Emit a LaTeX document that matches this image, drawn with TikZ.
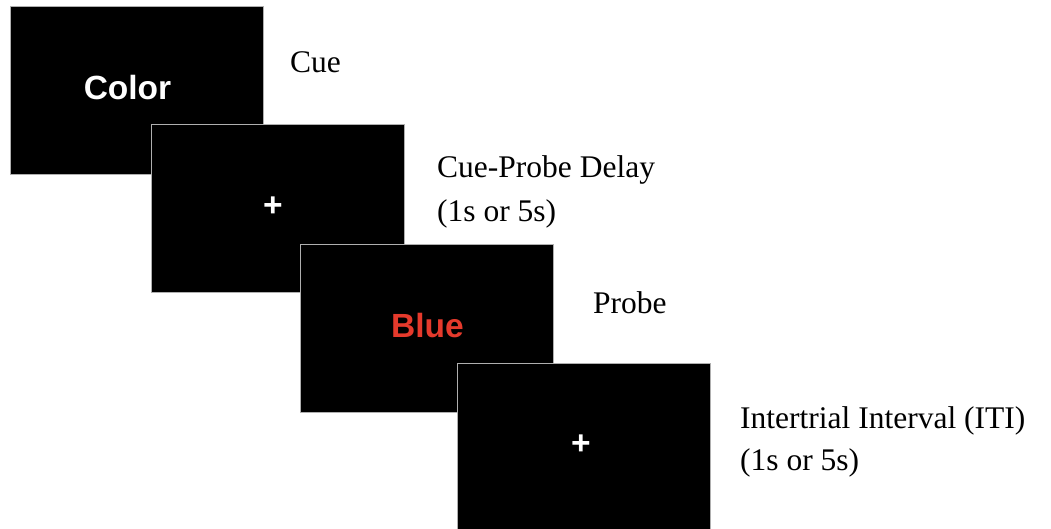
\documentclass[tikz,border=0pt]{standalone}
\usepackage{fontspec}
\setmainfont{Liberation Serif}
\newfontfamily\arialfont{Liberation Sans}
\definecolor{probered}{RGB}{229,58,44}
\definecolor{edgegray}{RGB}{175,175,175}
\begin{document}
\begin{tikzpicture}[x=1pt,y=-1pt,
  screen/.style={draw=edgegray, fill=black, line width=0.9pt, minimum width=253pt, minimum height=168pt, inner sep=0pt},
  stimtext/.style={font=\arialfont\bfseries\fontsize{33.5}{38}\selectfont, inner sep=0pt},
  label/.style={font=\fontsize{31.5}{36}\selectfont, inner sep=0pt, anchor=base west}]
\useasboundingbox[fill=white] (0,0) rectangle (1051,529);
\node[screen] (s1) at (136.5,90) {};
\node[stimtext, text=white, anchor=base] (t1) at (127.5,100) {Color};
\node[screen] (s2) at (277.5,208) {};
\node[stimtext, text=white] (t2) at (273,207) {+};
\node[screen] (s3) at (426.5,328) {};
\node[stimtext, text=probered, anchor=base] (t3) at (427.5,337) {Blue};
\node[screen] (s4) at (583.5,447) {};
\node[stimtext, text=white] (t4) at (581,445) {+};
\node[label] (cue) at (290,73) {Cue};
\node[label] (delay1) at (437,178) {Cue-Probe Delay};
\node[label] (delay2) at (437,222) {(1s or 5s)};
\node[label] (probe) at (593,313) {Probe};
\node[label] (iti1) at (740,428) {Intertrial Interval (ITI)};
\node[label] (iti2) at (740,470) {(1s or 5s)};
\end{tikzpicture}
\end{document}
